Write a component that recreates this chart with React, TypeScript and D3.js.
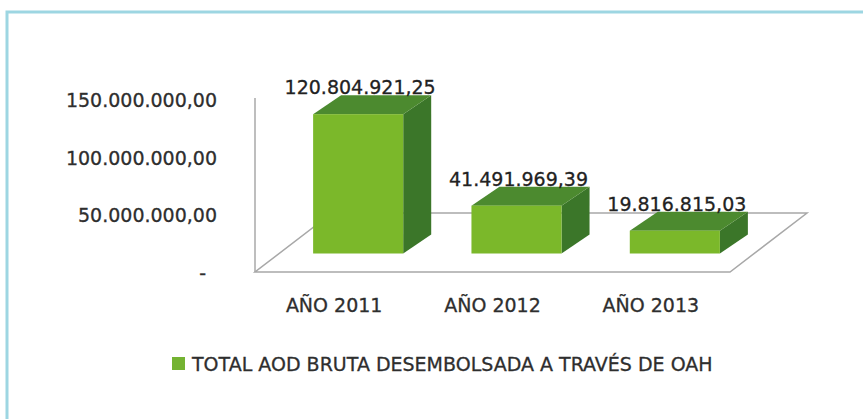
import React from "react";
import * as d3 from "d3";

const categories = ["AÑO 2011", "AÑO 2012", "AÑO 2013"];
const values = [120804921.25, 41491969.39, 19816815.03];
const yTickValues = [0, 50000000, 100000000, 150000000];
const yTickLabels = ["-", "50.000.000,00", "100.000.000,00", "150.000.000,00"];
const seriesName = "TOTAL AOD BRUTA DESEMBOLSADA A TRAVÉS DE OAH";

const W = 863;
const H = 419;
const FONT = "'DejaVu Sans', sans-serif";

const esLocale = d3.formatLocale({ decimal: ",", thousands: ".", grouping: [3], currency: ["", "€"] });
const fmt = esLocale.format(",.2f");

export default function App() {
  const x0 = 255;
  const x1 = 730;
  const floorDepth = { dx: 77, dy: -59 };
  const barFront = { dx: 24, dy: -18.5 };
  const barDepth = { dx: 28, dy: -19 };

  const x = d3.scaleBand<string>().domain(categories).range([x0, x1]).paddingInner(0.431).paddingOuter(0.2155);
  const y = d3.scaleLinear().domain([0, 150000000]).range([272, 99]);
  const y0 = y(0);

  const front = "#7bb82a";
  const top = "#4c8a2f";
  const side = "#3b7629";
  const grid = "#a8a8a8";
  const textColor = "#2e2e2e";
  const textStyle = { stroke: textColor, strokeWidth: 0.3 } as const;

  const poly = (pts: [number, number][]) => pts.map((p) => p.join(",")).join(" ");

  return (
    <svg width={W} height={H} style={{ position: "absolute", left: 0, top: 0, background: "#fff" }}>
      <rect x={7} y={12} width={W + 20} height={H + 20} fill="#fff" stroke="#9dd6e2" strokeWidth={3} />
      {/* floor */}
      <polygon
        points={poly([
          [x0, y0],
          [x1, y0],
          [x1 + floorDepth.dx, y0 + floorDepth.dy],
          [x0 + floorDepth.dx, y0 + floorDepth.dy],
        ])}
        fill="#fff"
        stroke={grid}
        strokeWidth={1.5}
      />
      <line x1={x0} y1={y0} x2={x0} y2={y(150000000) - 1} stroke={grid} strokeWidth={1.5} />
      {/* bars */}
      {categories.map((c, i) => {
        const fx = (x(c) as number) + barFront.dx;
        const bw = x.bandwidth();
        const yb = y0 + barFront.dy;
        const yt = y(values[i]) + barFront.dy;
        const { dx, dy } = barDepth;
        return (
          <g key={c}>
            <polygon
              points={poly([
                [fx + bw, yt],
                [fx + bw + dx, yt + dy],
                [fx + bw + dx, yb + dy],
                [fx + bw, yb],
              ])}
              fill={side}
            />
            <polygon
              points={poly([
                [fx, yt],
                [fx + dx, yt + dy],
                [fx + bw + dx, yt + dy],
                [fx + bw, yt],
              ])}
              fill={top}
            />
            <rect x={fx} y={yt} width={bw} height={yb - yt} fill={front} />
            <text
              x={fx + bw / 2 + 2}
              y={yt - 27}
              textAnchor="middle"
              dominantBaseline="central"
              fontFamily={FONT}
              fontSize={19}
              fill="#222"
              style={{ stroke: "#222", strokeWidth: 0.3 }}
            >
              {fmt(values[i])}
            </text>
          </g>
        );
      })}
      {/* y tick labels */}
      {yTickValues.map((v, i) => (
        <text
          key={v}
          x={v === 0 ? 206 : 217}
          y={y(v) + 1}
          textAnchor="end"
          dominantBaseline="central"
          fontFamily={FONT}
          fontSize={19}
          fill={textColor}
          style={textStyle}
        >
          {yTickLabels[i]}
        </text>
      ))}
      {/* category labels */}
      {categories.map((c) => (
        <text
          key={c}
          x={(x(c) as number) + x.bandwidth() / 2}
          y={305}
          textAnchor="middle"
          dominantBaseline="central"
          fontFamily={FONT}
          fontSize={19}
          fill={textColor}
          style={textStyle}
        >
          {c}
        </text>
      ))}
      {/* legend */}
      <rect x={172} y={357} width={13} height={13} fill="#74b332" />
      <text
        x={192}
        y={364}
        dominantBaseline="central"
        fontFamily={FONT}
        fontSize={19}
        fill={textColor}
        style={textStyle}
      >
        {seriesName}
      </text>
    </svg>
  );
}
